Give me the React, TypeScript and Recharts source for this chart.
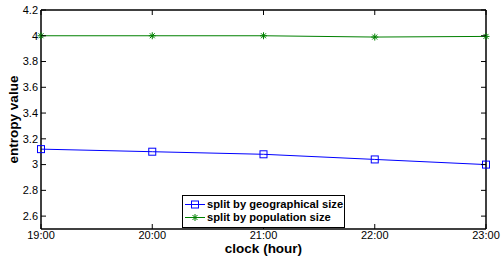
import React from 'react';
import { LineChart, Line, XAxis, YAxis, Legend, Label } from 'recharts';

const categories = ['19:00', '20:00', '21:00', '22:00', '23:00'];
const geoValues = [3.12, 3.10, 3.08, 3.04, 3.0];
const popValues = [4.0, 4.0, 4.0, 3.99, 3.995];
const yTicks = [2.6, 2.8, 3, 3.2, 3.4, 3.6, 3.8, 4, 4.2];
const seriesNames = ['split by geographical size', 'split by population size'];

const data = categories.map((c, i) => ({ idx: i, geo: geoValues[i], pop: popValues[i] }));

const FONT = '"Liberation Sans", Arial, Helvetica, sans-serif';
const BLUE = '#0000ff';
const GREEN = '#008000';

const SquareDot = (props: any) => {
  const { cx, cy } = props;
  if (cx == null || cy == null) return null;
  return <rect x={cx - 3.5} y={cy - 3.5} width={7} height={7} fill="none" stroke={BLUE} strokeWidth={1} />;
};

const StarShape = ({ cx, cy, color }: any) => {
  const r = 3.5;
  const d = r * 0.7071;
  return (
    <g stroke={color} strokeWidth={1} fill="none">
      <line x1={cx - r} y1={cy} x2={cx + r} y2={cy} />
      <line x1={cx} y1={cy - r} x2={cx} y2={cy + r} />
      <line x1={cx - d} y1={cy - d} x2={cx + d} y2={cy + d} />
      <line x1={cx - d} y1={cy + d} x2={cx + d} y2={cy - d} />
    </g>
  );
};

const StarDot = (props: any) => {
  const { cx, cy } = props;
  if (cx == null || cy == null) return null;
  return <StarShape cx={cx} cy={cy} color={GREEN} />;
};

const LeftTick = (props: any) => {
  const { x, y, payload } = props;
  const ax = x + 3;
  return (
    <g>
      <line x1={ax} y1={y} x2={ax + 5} y2={y} stroke="#000" strokeWidth={1} />
      <text x={x} y={y} dy="0.35em" textAnchor="end" fontSize={11} fontFamily={FONT} fill="#000">
        {String(payload.value)}
      </text>
    </g>
  );
};

const RightTick = (props: any) => {
  const { x, y } = props;
  return <line x1={x - 5} y1={y} x2={x} y2={y} stroke="#000" strokeWidth={1} />;
};

const BottomTick = (props: any) => {
  const { x, y, payload } = props;
  const ay = y - 2;
  return (
    <g>
      <line x1={x} y1={ay} x2={x} y2={ay - 5} stroke="#000" strokeWidth={1} />
      <text x={x} y={y} dy="0.71em" textAnchor="middle" fontSize={11} fontFamily={FONT} fill="#000">
        {categories[payload.value]}
      </text>
    </g>
  );
};

const TopTick = (props: any) => {
  const { x, y } = props;
  return <line x1={x} y1={y} x2={x} y2={y + 5} stroke="#000" strokeWidth={1} />;
};

const LegendContent = () => {
  return (
    <div
      style={{
        width: 161,
        height: 29,
        border: '1px solid #000',
        background: '#fff',
        fontFamily: FONT,
        fontWeight: 'bold',
        fontSize: 11.2,
        lineHeight: '13px',
        boxSizing: 'content-box',
        paddingTop: 2,
      }}
    >
      {seriesNames.map((name, i) => (
        <div key={name} style={{ display: 'flex', alignItems: 'center', height: 13 }}>
          <svg width={24} height={13} style={{ flex: 'none' }}>
            <line x1={2} y1={6.5} x2={22} y2={6.5} stroke={i === 0 ? BLUE : GREEN} strokeWidth={1} />
            {i === 0 ? (
              <rect x={8.5} y={3} width={7} height={7} fill="none" stroke={BLUE} />
            ) : (
              <StarShape cx={12} cy={6.5} color={GREEN} />
            )}
          </svg>
          <span style={{ whiteSpace: 'nowrap' }}>{name}</span>
        </div>
      ))}
    </div>
  );
};

export default function App() {
  return (
    <div style={{ position: 'absolute', left: 0, top: 0, width: 503, height: 259, background: '#fff' }}>
      <LineChart width={503} height={259} data={data} margin={{ top: 0, right: 0, bottom: 0, left: 0 }}>
        <XAxis
          xAxisId="b"
          dataKey="idx"
          type="number"
          domain={[0, 4]}
          ticks={[0, 1, 2, 3, 4]}
          orientation="bottom"
          height={30}
          tickSize={0}
          tickMargin={2}
          tick={<BottomTick />}
          axisLine={{ stroke: '#000', strokeWidth: 1.5 }}
          tickLine={false}
        >
          <Label
            content={(p: any) => {
              const vb = p.viewBox;
              return (
                <text x={vb.x + vb.width / 2} y={vb.y + 24} textAnchor="middle" fontSize={13.5} fontWeight="bold" fontFamily={FONT} fill="#000">
                  clock (hour)
                </text>
              );
            }}
          />
        </XAxis>
        <XAxis
          xAxisId="t"
          dataKey="idx"
          type="number"
          domain={[0, 4]}
          ticks={[0, 1, 2, 3, 4]}
          orientation="top"
          height={10}
          tickSize={0}
          tickMargin={0}
          tick={<TopTick />}
          axisLine={{ stroke: '#000', strokeWidth: 1.5 }}
          tickLine={false}
        />
        <YAxis
          yAxisId="l"
          domain={[2.5, 4.2]}
          ticks={yTicks}
          orientation="left"
          width={41}
          tickSize={0}
          tickMargin={3}
          tick={<LeftTick />}
          axisLine={{ stroke: '#000', strokeWidth: 1.5 }}
          tickLine={false}
          allowDataOverflow
        >
          <Label
            content={(p: any) => {
              const vb = p.viewBox;
              const cx = 13;
              const cy = vb.y + vb.height / 2;
              return (
                <text x={cx} y={cy} transform={`rotate(-90 ${cx} ${cy})`} textAnchor="middle" dominantBaseline="central" fontSize={13.5} fontWeight="bold" fontFamily={FONT} fill="#000">
                  entropy value
                </text>
              );
            }}
          />
        </YAxis>
        <YAxis
          yAxisId="r"
          domain={[2.5, 4.2]}
          ticks={yTicks}
          orientation="right"
          width={17}
          tickSize={0}
          tickMargin={0}
          tick={<RightTick />}
          axisLine={{ stroke: '#000', strokeWidth: 1.5 }}
          tickLine={false}
          allowDataOverflow
        />
        <Legend
          layout="horizontal"
          verticalAlign="middle"
          align="center"
          content={<LegendContent />}
          wrapperStyle={{ position: 'absolute', left: 182, top: 195, width: 163, height: 32 }}
        />
        <Line
          xAxisId="b"
          yAxisId="l"
          type="linear"
          dataKey="geo"
          name={seriesNames[0]}
          stroke={BLUE}
          strokeWidth={1}
          dot={<SquareDot />}
          activeDot={false}
          isAnimationActive={false}
        />
        <Line
          xAxisId="b"
          yAxisId="l"
          type="linear"
          dataKey="pop"
          name={seriesNames[1]}
          stroke={GREEN}
          strokeWidth={1}
          dot={<StarDot />}
          activeDot={false}
          isAnimationActive={false}
        />
      </LineChart>
    </div>
  );
}
